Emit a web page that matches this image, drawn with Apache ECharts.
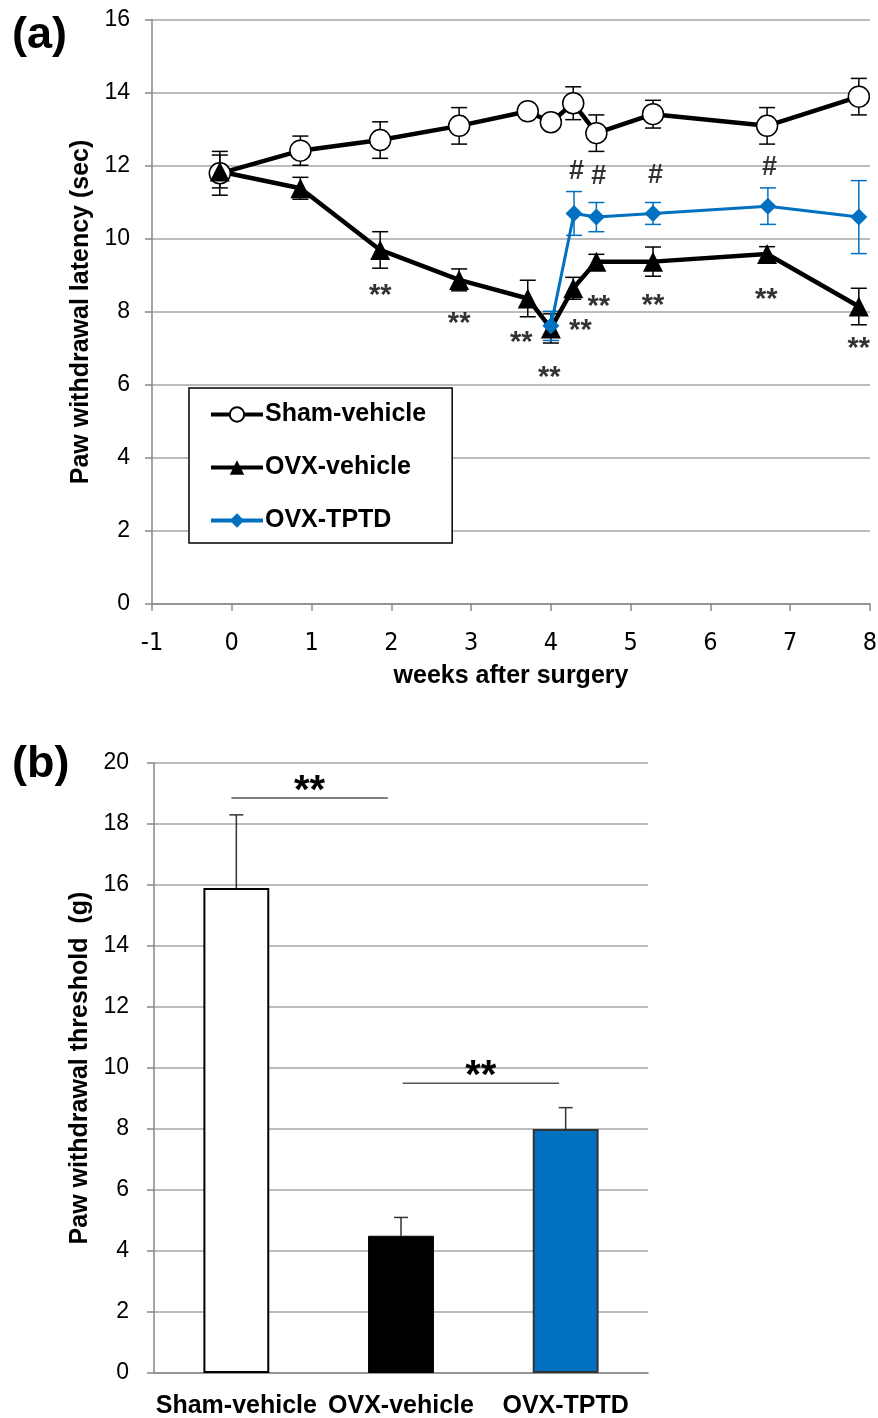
<!DOCTYPE html>
<html>
<head>
<meta charset="utf-8">
<script src="https://cdn.jsdelivr.net/npm/echarts@6/dist/echarts.min.js"></script>
<style>
  html, body { margin: 0; padding: 0; background: #fff; }
  #chart { width: 878px; height: 1418px; }
</style>
</head>
<body>
<div id="chart"></div>
<script>
// (a) paw withdrawal latency over time
var weeks = [-0.15, 0.86, 1.86, 2.85, 3.71, 4.0, 4.28, 4.57, 5.28, 6.71, 7.86]
var sham = [11.8, 12.42, 12.71, 13.1, 13.5, 13.2, 13.72, 12.9, 13.42, 13.1, 13.9]
var shamErr = [0.6, 0.4, 0.5, 0.5, 0.1, 0.1, 0.45, 0.5, 0.38, 0.5, 0.5]
var ovx = [11.85, 11.39, 9.7, 8.88, 8.37, 7.55, 8.65, 9.38, 9.38, 9.59, 8.15]
var ovxErr = [0.45, 0.3, 0.5, 0.3, 0.5, 0.4, 0.3, 0.2, 0.4, 0.2, 0.5]
var weeksTptd = [4.0, 4.29, 4.57, 5.28, 6.72, 7.86]
var tptd = [7.62, 10.7, 10.6, 10.7, 10.9, 10.6]
var tptdErr = [0.4, 0.6, 0.4, 0.3, 0.5, 1.0]
var starsAt = [[1.86, 8.44], [2.85, 7.67], [3.63, 7.15], [3.98, 6.2], [4.37, 7.48], [4.6, 8.14], [5.28, 8.16], [6.7, 8.33], [7.86, 6.99]]
var hashAt = [[4.32, 11.84], [4.6, 11.7], [5.31, 11.75], [6.74, 11.97]]

// (b) paw withdrawal threshold
var groups = ['Sham-vehicle', 'OVX-vehicle', 'OVX-TPTD']
var threshold = [15.9, 4.5, 8.0]
var thresholdErr = [2.4, 0.6, 0.7]
// [from, to, height] in category units
var sigLines = [[-0.03, 0.92, 18.85], [1.01, 1.96, 9.5]]

var BLUE = '#0070c0'
var FONT = '"Liberation Sans", Arial, sans-serif'
var NARROW = '"Liberation Sans Narrow", "DejaVu Sans Condensed", ' + FONT

function zip(xs, ys) { return xs.map(function (x, i) { return [x, ys[i]] }) }
function zip3(xs, ys, es) { return xs.map(function (x, i) { return [x, ys[i], es[i]] }) }

function errBars(color, upOnly) {
    return function (params, api) {
        var x = api.value(0), y = api.value(1), e = api.value(2)
        var hi = api.coord([x, y + e])
        var lo = api.coord(upOnly ? [x, y] : [x, y - e])
        var w = upOnly ? 7 : 8
        var st = { stroke: color, lineWidth: 1.5 }
        var kids = [
            { type: 'line', shape: { x1: hi[0], y1: hi[1], x2: lo[0], y2: lo[1] }, style: st },
            { type: 'line', shape: { x1: hi[0] - w, y1: hi[1], x2: hi[0] + w, y2: hi[1] }, style: st }
        ]
        if (!upOnly) kids.push({ type: 'line', shape: { x1: lo[0] - w, y1: lo[1], x2: lo[0] + w, y2: lo[1] }, style: st })
        return { type: 'group', children: kids }
    }
}

var axisLine = { show: true, onZero: false, lineStyle: { color: '#888', width: 1.5 } }
var axisTick = { show: true, inside: false, length: 7, lineStyle: { color: '#888', width: 1.5 } }
var gridLine = { show: true, lineStyle: { color: '#a6a6a6', width: 1.5 } }
var boldTitle = { fontFamily: FONT, fontWeight: 'bold', fontSize: 25, color: '#000' }

var chart = echarts.init(document.getElementById('chart'))
chart.setOption({
    animation: false,
    backgroundColor: '#fff',
    textStyle: { fontFamily: FONT },
    graphic: [
        { type: 'text', left: 12, top: 13, style: { text: '(a)', font: 'bold 45px ' + FONT, fill: '#000' } },
        { type: 'text', left: 12, top: 742, style: { text: '(b)', font: 'bold 45px ' + FONT, fill: '#000' } }
    ],
    legend: {
        orient: 'vertical',
        left: 189, top: 388,
        padding: [14, 26, 10, 20],
        itemGap: 28,
        itemWidth: 52, itemHeight: 18,
        borderColor: '#000', borderWidth: 1.5,
        backgroundColor: '#fff',
        lineStyle: { width: 4 },
        textStyle: { fontFamily: FONT, fontWeight: 'bold', fontSize: 25, color: '#000', padding: [0, 0, 0, -3] },
        data: ['Sham-vehicle', 'OVX-vehicle', 'OVX-TPTD']
    },
    grid: [
        { left: 152, right: 8, top: 20, bottom: 814, outerBoundsMode: 'none', containLabel: false },
        { left: 154, right: 230, top: 763, bottom: 45, outerBoundsMode: 'none', containLabel: false }
    ],
    xAxis: [
        {
            gridIndex: 0, type: 'value', min: -1, max: 8, interval: 1,
            name: 'weeks after surgery', nameLocation: 'middle', nameGap: 60,
            nameTextStyle: boldTitle,
            axisLine: axisLine, axisTick: axisTick, splitLine: { show: false },
            axisLabel: { fontFamily: NARROW, fontSize: 25, color: '#000', margin: 27 }
        },
        {
            gridIndex: 1, type: 'category', data: groups,
            axisLine: axisLine, axisTick: { show: false }, splitLine: { show: false },
            axisLabel: { interval: 0, hideOverlap: false, fontFamily: FONT, fontWeight: 'bold', fontSize: 25, color: '#000', margin: 21 }
        },
        { gridIndex: 1, type: 'value', min: -0.5, max: 2.5, show: false }
    ],
    yAxis: [
        {
            gridIndex: 0, type: 'value', min: 0, max: 16, interval: 2,
            name: 'Paw withdrawal latency (sec)', nameLocation: 'middle', nameGap: 55,
            nameTextStyle: boldTitle,
            axisLine: axisLine, axisTick: axisTick, splitLine: gridLine,
            axisLabel: { fontSize: 23, color: '#000', margin: 22 }
        },
        {
            gridIndex: 1, type: 'value', min: 0, max: 20, interval: 2,
            name: 'Paw withdrawal threshold  (g)', nameLocation: 'middle', nameGap: 57,
            nameTextStyle: boldTitle,
            axisLine: axisLine, axisTick: axisTick, splitLine: gridLine,
            axisLabel: { fontSize: 23, color: '#000', margin: 25 }
        }
    ],
    series: [
        // error bars behind markers
        { type: 'custom', xAxisIndex: 0, yAxisIndex: 0, z: 1, renderItem: errBars('#000'), data: zip3(weeks, sham, shamErr) },
        { type: 'custom', xAxisIndex: 0, yAxisIndex: 0, z: 1, renderItem: errBars('#000'), data: zip3(weeks, ovx, ovxErr) },
        { type: 'custom', xAxisIndex: 0, yAxisIndex: 0, z: 1, renderItem: errBars(BLUE), data: zip3(weeksTptd, tptd, tptdErr) },
        {
            name: 'Sham-vehicle', type: 'line', xAxisIndex: 0, yAxisIndex: 0, z: 3,
            data: zip(weeks, sham),
            symbol: 'circle', symbolSize: 21,
            lineStyle: { color: '#000', width: 4.5 },
            itemStyle: { color: '#fff', borderColor: '#000', borderWidth: 1.5 }
        },
        {
            name: 'OVX-vehicle', type: 'line', xAxisIndex: 0, yAxisIndex: 0, z: 3,
            data: zip(weeks, ovx),
            symbol: 'triangle', symbolSize: 20,
            lineStyle: { color: '#000', width: 4.5 },
            itemStyle: { color: '#000' }
        },
        {
            name: 'OVX-TPTD', type: 'line', xAxisIndex: 0, yAxisIndex: 0, z: 4,
            data: zip(weeksTptd, tptd),
            symbol: 'diamond', symbolSize: 17,
            lineStyle: { color: BLUE, width: 3 },
            itemStyle: { color: BLUE }
        },
        {
            type: 'scatter', xAxisIndex: 0, yAxisIndex: 0, z: 5, symbolSize: 0, silent: true,
            data: starsAt,
            label: { show: true, position: 'inside', formatter: '**', fontFamily: FONT, fontWeight: 'bold', fontSize: 29, color: '#000' }
        },
        {
            type: 'scatter', xAxisIndex: 0, yAxisIndex: 0, z: 5, symbolSize: 0, silent: true,
            data: hashAt,
            label: { show: true, position: 'inside', formatter: '#', fontFamily: FONT, fontWeight: 'bold', fontSize: 27, color: '#000' }
        },
        // (b) bars
        {
            type: 'bar', xAxisIndex: 1, yAxisIndex: 1, barWidth: '40%', z: 2,
            data: threshold.map(function (v, i) {
                var styles = [
                    { color: '#fff', borderColor: '#000', borderWidth: 2 },
                    { color: '#000', borderColor: '#000', borderWidth: 1 },
                    { color: BLUE, borderColor: '#333', borderWidth: 2 }
                ]
                return { value: v, itemStyle: styles[i] }
            })
        },
        {
            type: 'custom', xAxisIndex: 1, yAxisIndex: 1, z: 1,
            renderItem: errBars('#333', true),
            data: threshold.map(function (v, i) { return [i, v, thresholdErr[i]] })
        },
        {
            type: 'custom', xAxisIndex: 2, yAxisIndex: 1, z: 3,
            renderItem: function (params, api) {
                var a = api.coord([api.value(0), api.value(2)])
                var b = api.coord([api.value(1), api.value(2)])
                return {
                    type: 'group', children: [
                        { type: 'line', shape: { x1: a[0], y1: a[1], x2: b[0], y2: b[1] }, style: { stroke: '#555', lineWidth: 1.5 } },
                        {
                            type: 'text', x: (a[0] + b[0]) / 2, y: a[1] + 14,
                            style: { text: '**', font: 'bold 40px ' + FONT, fill: '#000', align: 'center', verticalAlign: 'bottom' }
                        }
                    ]
                }
            },
            data: sigLines
        }
    ]
})
</script>
</body>
</html>
